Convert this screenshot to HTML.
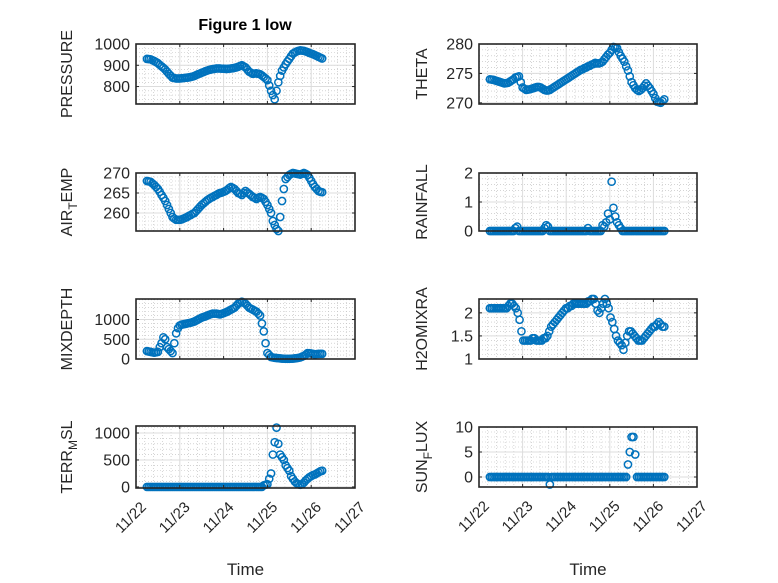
<!DOCTYPE html>
<html><head><meta charset="utf-8"><style>
html,body{margin:0;padding:0;background:#fff;}
svg{display:block;font-family:"Liberation Sans",sans-serif;}
</style></head><body>
<svg id="fig" width="778" height="583" viewBox="0 0 778 583">
<rect width="778" height="583" fill="#fff"/>
<text x="245" y="30" text-anchor="middle" font-size="16" font-weight="bold" fill="#000">Figure 1 low</text>
</svg>
<script>
const xTickLabels = ["11/22","11/23","11/24","11/25","11/26","11/27"];
const tStart = 0.25, tEnd = 4.25;
const pressure = [930,929,928,924,920,915,910,902,895,888,880,870,860,851,842,840,838,838,838,839,840,841,842,843,845,847,850,854,858,861,865,868,872,875,878,880,882,883,885,885,885,884,884,883,883,884,885,886,888,890,893,897,900,895,890,880,870,865,860,861,862,860,858,852,845,838,830,805,780,760,740,780,820,850,875,890,905,918,930,943,955,960,965,968,970,969,968,965,962,958,955,952,948,944,940,936,932];
const airTemp = [268,267.9,267.8,267.4,267,266.5,266,265.3,264.5,263.8,263,262,261,260,259,258.6,258.3,258.3,258.3,258.4,258.6,258.8,259,259.3,259.5,259.8,260,260.5,261,261.5,262,262.4,262.8,263.2,263.5,263.8,264,264.3,264.5,264.8,265,265.1,265.3,265.5,265.8,266.2,266.5,266.3,266,265.5,265,264.8,264.5,265,265.5,265.1,264.8,264.4,264,263.8,263.5,263.8,264,263.8,263.5,262.8,262,261,260,258,257,256,255.5,259,263,266,268.5,269,269.5,269.8,270,269.9,269.8,269.7,269.6,269.8,270,269.8,269.5,268.8,268,267.2,266.5,266,265.5,265.3,265.2];
const theta = [274,273.95,273.9,273.8,273.7,273.6,273.5,273.4,273.3,273.35,273.4,273.6,273.8,274,274.3,274.4,274.5,273.5,272.6,272.4,272.2,272.25,272.3,272.4,272.5,272.6,272.7,272.7,272.6,272.4,272.2,272.1,272.1,272.2,272.4,272.6,272.8,273,273.2,273.4,273.6,273.8,274,274.2,274.4,274.6,274.8,275,275.2,275.4,275.6,275.7,275.9,276,276.2,276.3,276.5,276.6,276.8,276.7,276.7,276.8,277,277.4,277.8,278.2,278.5,279,279.5,279.4,279.3,278.6,278,277.5,277,276.2,275.5,274.5,273.5,273,272.5,272.2,272,272.2,272.5,272.9,273.3,272.9,272.5,272,271.5,270.8,270.2,270.1,270,270.3,270.6];
const rainfall = [0,0,0,0,0,0,0,0,0,0,0,0,0,0,0.1,0.15,0,0,0,0,0,0,0,0,0,0,0,0,0,0,0.1,0.2,0.15,0,0,0,0,0,0,0,0,0,0,0,0,0,0,0,0,0,0,0,0,0,0.1,0,0,0,0,0,0,0,0.2,0.15,0.3,0.6,0.4,1.7,0.8,0.5,0.3,0.2,0.1,0,0,0,0,0,0,0,0,0,0,0,0,0,0,0,0,0,0,0,0,0,0,0,0];
const mixDepth = [200,190,180,170,160,170,180,300,400,550,500,300,250,200,150,400,650,780,850,870,880,890,900,910,920,935,950,975,1000,1025,1050,1065,1080,1100,1120,1135,1150,1150,1150,1140,1130,1145,1160,1180,1200,1225,1250,1275,1300,1350,1400,1430,1450,1430,1400,1350,1300,1275,1250,1225,1200,1150,1100,900,700,400,150,100,50,40,30,25,20,15,10,8,5,5,5,8,10,15,20,30,40,60,80,110,150,145,140,130,120,125,130,130,130];
const h2oMix = [2.1,2.1,2.1,2.1,2.1,2.1,2.1,2.1,2.1,2.1,2.15,2.2,2.2,2.15,2.1,2.0,1.85,1.6,1.4,1.4,1.4,1.4,1.4,1.45,1.45,1.4,1.4,1.4,1.4,1.45,1.45,1.5,1.6,1.7,1.75,1.8,1.85,1.9,1.95,2.0,2.05,2.1,2.1,2.15,2.15,2.2,2.2,2.2,2.2,2.2,2.2,2.2,2.2,2.25,2.25,2.3,2.3,2.2,2.05,2.0,2.1,2.2,2.3,2.2,2.1,1.9,1.8,1.65,1.5,1.4,1.35,1.3,1.2,1.35,1.5,1.6,1.6,1.55,1.5,1.45,1.4,1.4,1.4,1.45,1.5,1.55,1.6,1.65,1.7,1.7,1.75,1.8,1.75,1.7,1.7];
const terrMsl = [0,0,0,0,0,0,0,0,0,0,0,0,0,0,0,0,0,0,0,0,0,0,0,0,0,0,0,0,0,0,0,0,0,0,0,0,0,0,0,0,0,0,0,0,0,0,0,0,0,0,0,0,0,0,0,0,0,0,0,0,0,0,0,0,30,40,50,150,250,600,830,1100,800,600,550,500,400,350,300,200,150,100,70,50,40,50,80,120,150,180,200,220,230,250,270,290,300];
const sunFlux = [0,0,0,0,0,0,0,0,0,0,0,0,0,0,0,0,0,0,0,0,0,0,0,0,0,0,0,0,0,0,0,0,0,-1.5,0,0,0,0,0,0,0,0,0,0,0,0,0,0,0,0,0,0,0,0,0,0,0,0,0,0,0,0,0,0,0,0,0,0,0,0,0,0,0,0,0,0,2.5,5,8,8,4.5,0,0,0,0,0,0,0,0,0,0,0,0,0,0,0,0];

const svg = document.getElementById('fig');
const NS = 'http://www.w3.org/2000/svg';
function mk(tag, attrs, parent){const e=document.createElementNS(NS,tag);for(const k in attrs)e.setAttribute(k,attrs[k]);(parent||svg).appendChild(e);return e;}

const panels = [
 {name:'pressure',data:pressure,x0:136,x1:355,y0:44,y1:104,ymin:718,ymax:1000,ticks:[800,900,1000],minor:20,label:['PRESSURE'],lx:66,bottom:false},
 {name:'theta',data:theta,x0:479,x1:697,y0:44,y1:104,ymin:269.8,ymax:280,ticks:[270,275,280],minor:1,label:['THETA'],lx:421,bottom:false},
 {name:'air-temp',data:airTemp,x0:136,x1:355,y0:173,y1:231,ymin:255.5,ymax:270,ticks:[260,265,270],minor:1,label:['AIR','T','EMP'],lx:66,bottom:false},
 {name:'rainfall',data:rainfall,x0:479,x1:697,y0:173,y1:231,ymin:0,ymax:2,ticks:[0,1,2],minor:0.2,label:['RAINFALL'],lx:421,bottom:false},
 {name:'mixdepth',data:mixDepth,x0:136,x1:355,y0:299,y1:359,ymin:0,ymax:1520,ticks:[0,500,1000],minor:100,label:['MIXDEPTH'],lx:66,bottom:false},
 {name:'h2omixra',data:h2oMix,x0:479,x1:697,y0:299,y1:359,ymin:1,ymax:2.3,ticks:[1,1.5,2],minor:0.1,label:['H2OMIXRA'],lx:421,bottom:false},
 {name:'terr-msl',data:terrMsl,x0:136,x1:355,y0:426,y1:488,ymin:-20,ymax:1130,ticks:[0,500,1000],minor:100,label:['TERR','M','SL'],lx:66,bottom:true},
 {name:'sun-flux',data:sunFlux,x0:479,x1:697,y0:427,y1:487,ymin:-2,ymax:10,ticks:[0,5,10],minor:1,label:['SUN','F','LUX'],lx:421,bottom:true}
];

panels.forEach(p=>{
  const g = mk('g',{});
  
  
  const xs = d => p.x0 + (d/5)*(p.x1-p.x0);
  const ys = v => p.y1 - (v-p.ymin)/(p.ymax-p.ymin)*(p.y1-p.y0);
  for(let d=0; d<=5.0001; d+=0.2){
    if(Math.abs(d-Math.round(d))<1e-6) continue;
    mk('line',{x1:xs(d),x2:xs(d),y1:p.y0,y2:p.y1,stroke:'#bcbcbc','stroke-width':0.6,'stroke-dasharray':'1 2'},g);
  }
  const startM = Math.ceil(p.ymin/p.minor)*p.minor;
  for(let v=startM; v<=p.ymax+1e-9; v+=p.minor){
    mk('line',{x1:p.x0,x2:p.x1,y1:ys(v),y2:ys(v),stroke:'#bcbcbc','stroke-width':0.6,'stroke-dasharray':'1 2'},g);
  }
  for(let d=1; d<5; d++) mk('line',{x1:xs(d),x2:xs(d),y1:p.y0,y2:p.y1,stroke:'#dcdcdc','stroke-width':1},g);
  p.ticks.forEach(v=>mk('line',{x1:p.x0,x2:p.x1,y1:ys(v),y2:ys(v),stroke:'#dcdcdc','stroke-width':1},g));
  const n = p.data.length;
  p.data.forEach((v,i)=>{
    const t = tStart + i*(tEnd-tStart)/(n-1);
    const c = mk('circle',{cx:xs(t),cy:ys(v),r:3.6,fill:'none',stroke:'#0072BD','stroke-width':1.5},g);
    
    
  });
  mk('rect',{x:p.x0,y:p.y0,width:p.x1-p.x0,height:p.y1-p.y0,fill:'none',stroke:'#262626','stroke-width':1.6},g);
  for(let d=0; d<=5; d++){
    mk('line',{x1:xs(d),x2:xs(d),y1:p.y1,y2:p.y1-3,stroke:'#262626'},g);
    mk('line',{x1:xs(d),x2:xs(d),y1:p.y0,y2:p.y0+3,stroke:'#262626'},g);
    if(p.bottom){
      const tx = mk('text',{x:0,y:0,'text-anchor':'end','font-size':15,fill:'#262626',transform:`translate(${xs(d)+11},${p.y1+20}) rotate(-45)`},g);
      tx.textContent = xTickLabels[d];
      
      
    }
  }
  p.ticks.forEach(v=>{
    mk('line',{x1:p.x0,x2:p.x0+3,y1:ys(v),y2:ys(v),stroke:'#262626'},g);
    mk('line',{x1:p.x1,x2:p.x1-3,y1:ys(v),y2:ys(v),stroke:'#262626'},g);
    const tl = mk('text',{x:p.x0-6,y:ys(v)+5.5,'text-anchor':'end','font-size':16,fill:'#262626'},g);
    tl.textContent = String(v);
    
    
  });
  const cy = (p.y0+p.y1)/2;
  const lab = mk('text',{x:0,y:0,'text-anchor':'middle','font-size':16,fill:'#262626',transform:`translate(${p.lx+6},${cy}) rotate(-90)`},g);
  
  
  if(p.label.length===1){ lab.textContent=p.label[0]; }
  else {
    const a=mk('tspan',{},lab); a.textContent=p.label[0];
    const b=mk('tspan',{dy:5,'font-size':12},lab); b.textContent=p.label[1];
    const c=mk('tspan',{dy:-5},lab); c.textContent=p.label[2];
  }
  if(p.bottom){
    const xt = mk('text',{x:(p.x0+p.x1)/2,y:575,'text-anchor':'middle','font-size':17,fill:'#262626'},g);
    xt.textContent='Time';
    
    
  }
});
</script>
</body></html>
